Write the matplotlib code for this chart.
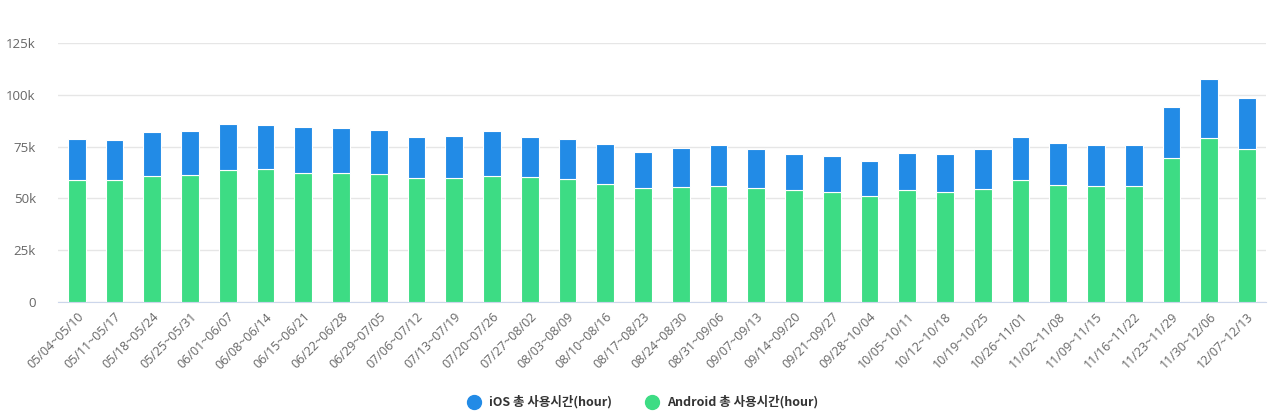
import numpy as np
import matplotlib
matplotlib.use('Agg')
import matplotlib.pyplot as plt
import matplotlib.ticker as ticker
from matplotlib.lines import Line2D

plt.rcParams['font.family'] = ['Open Sans', 'Noto Sans CJK KR', 'DejaVu Sans']

weeks = ['05/04~05/10', '05/11~05/17', '05/18~05/24', '05/25~05/31', '06/01~06/07',
         '06/08~06/14', '06/15~06/21', '06/22~06/28', '06/29~07/05', '07/06~07/12',
         '07/13~07/19', '07/20~07/26', '07/27~08/02', '08/03~08/09', '08/10~08/16',
         '08/17~08/23', '08/24~08/30', '08/31~09/06', '09/07~09/13', '09/14~09/20',
         '09/21~09/27', '09/28~10/04', '10/05~10/11', '10/12~10/18', '10/19~10/25',
         '10/26~11/01', '11/02~11/08', '11/09~11/15', '11/16~11/22', '11/23~11/29',
         '11/30~12/06', '12/07~12/13']

# Android hours (bottom part)
android = [58900, 58900, 60800, 61400, 63900, 64300, 62400, 62400, 61900, 60000,
           59700, 60800, 60300, 59400, 56900, 54900, 55500, 56000, 54900, 54200,
           52900, 51300, 53900, 52900, 54400, 58900, 56500, 56000, 56000, 69700,
           79200, 73700]
# stack totals (top of blue part)
total = [78800, 78300, 81900, 82400, 85800, 85300, 84300, 83800, 83000, 79800,
         80300, 82400, 79800, 78800, 76300, 72200, 74300, 75800, 73800, 71300,
         70300, 68200, 71800, 71300, 73800, 79800, 76700, 75800, 75800, 94400,
         107500, 98500]
ios = [t - a for t, a in zip(total, android)]

blue = '#228be6'
green = '#3ddc84'

fig = plt.figure(figsize=(12.8, 4.19), dpi=100)
ax = fig.add_axes([0.0453, 0.2792, 0.9437, 0.6178])

x = np.arange(len(weeks))
ax.bar(x, android, width=0.47, color=green, edgecolor='white', linewidth=0.8, zorder=3)
ax.bar(x, ios, width=0.47, bottom=android, color=blue, edgecolor='white', linewidth=0.8, zorder=3)

ax.set_xlim(-0.5, len(weeks) - 0.5)
ax.set_ylim(0, 125000)
ax.yaxis.set_major_locator(ticker.MultipleLocator(25000))
ax.yaxis.set_major_formatter(ticker.FuncFormatter(lambda v, p: '0' if v == 0 else '%dk' % (v / 1000)))
ax.grid(axis='y', color='#e6e6e6', linewidth=1, zorder=0)
ax.set_axisbelow(True)

for s in ['top', 'right', 'left']:
    ax.spines[s].set_visible(False)
ax.spines['bottom'].set_color('#ccd6eb')

ax.set_xticks(x)
ax.set_xticklabels(weeks, rotation=45, ha='right', rotation_mode='anchor')
ax.tick_params(axis='x', length=0, pad=6, labelsize=9, colors='#666666')
ax.tick_params(axis='y', length=0, pad=16, labelsize=9.5, colors='#666666')

handles = [Line2D([], [], marker='o', linestyle='', markersize=10, color=blue),
           Line2D([], [], marker='o', linestyle='', markersize=10, color=green)]
leg = fig.legend(handles, ['iOS 총 사용시간(hour)', 'Android 총 사용시간(hour)'],
                 loc='center', bbox_to_anchor=(0.5, 0.04), ncol=2, frameon=False,
                 handletextpad=0.2, columnspacing=2.2,
                 prop={'family': ['Noto Sans CJK KR', 'DejaVu Sans'], 'weight': 'bold', 'size': 9})
for t in leg.get_texts():
    t.set_color('#333333')

fig.savefig('out.png', dpi=100)
